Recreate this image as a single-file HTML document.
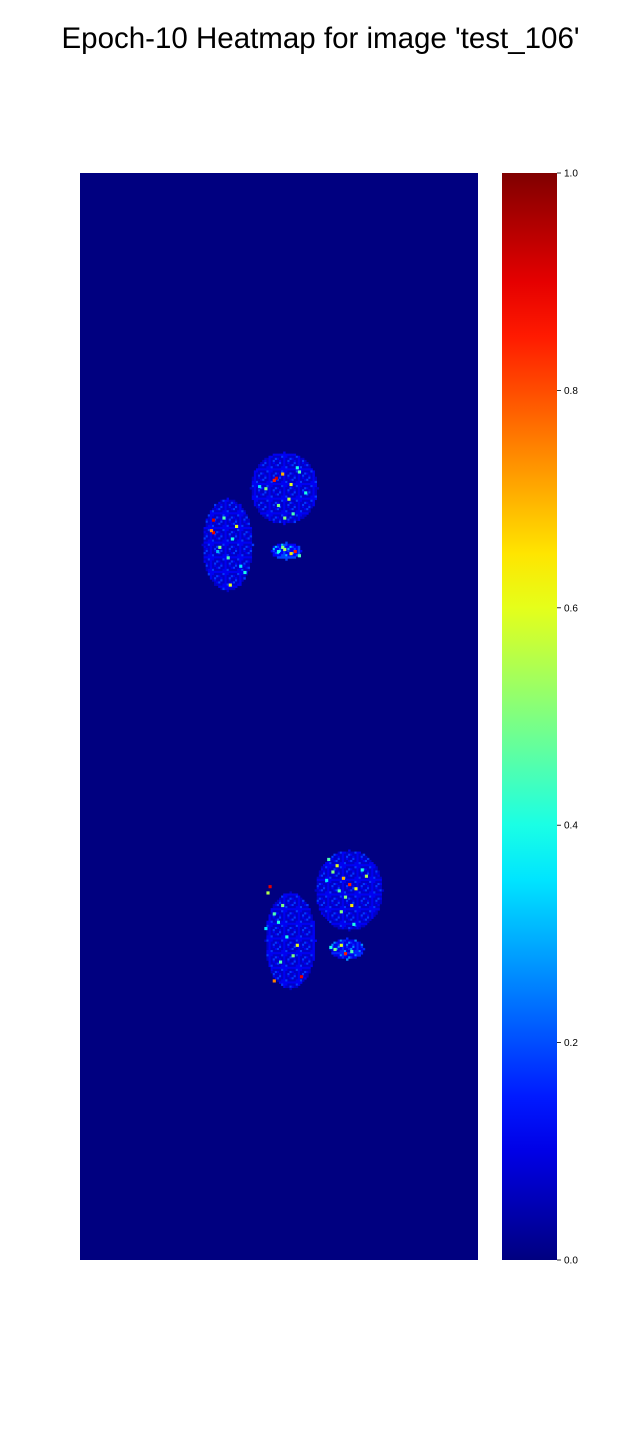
<!DOCTYPE html>
<html><head><meta charset="utf-8">
<style>
body{margin:0;background:#fff;width:641px;height:1440px;overflow:hidden;font-family:"Liberation Sans",sans-serif}
#title{position:absolute;top:22px;left:0;width:641px;text-align:center;font-size:29.5px;color:#000}
svg{position:absolute;left:0;top:0}
</style></head><body>
<div id="title">Epoch-10 Heatmap for image 'test_106'</div>
<svg id="chart" width="641" height="1440"></svg>
<script>
const NCOLS=190, NROWS=519;
// blob regions: [centerCol, centerRow, radiusCol, radiusRow, baseValue]
const blobCenterCols=[97,70,98,128,100,127];
const blobCenterRows=[150,177,180,342,366,370];
const blobRadiusCols=[16,12,7,16,12,8];
const blobRadiusRows=[17,22,4,19,23,5];
const blobBaseValues=[0.07,0.07,0.12,0.07,0.07,0.1];
// hot cells
const hotCols=[93,92,96,100,88,104,99,107,94,101,85,97,103,63,63,62,68,74,66,72,70,76,65,71,78,94,97,100,102,104,96,
 118,122,125,120,128,131,126,134,129,123,117,136,124,130,90,89,92,96,94,98,101,88,95,103,121,124,126,129,119,92,105];
const hotRows=[145,146,143,148,150,142,155,152,158,162,149,164,140,165,171,170,164,168,178,174,183,187,180,196,190,180,179,181,180,182,178,
 327,330,336,333,339,341,345,332,349,342,337,335,352,358,340,343,353,349,357,364,373,360,376,368,370,368,372,371,369,385,383];
const hotValues=[0.92,0.85,0.7,0.6,0.5,0.45,0.55,0.4,0.5,0.45,0.35,0.5,0.4,0.92,0.9,0.75,0.45,0.6,0.5,0.4,0.45,0.35,0.3,0.6,0.4,0.4,0.55,0.65,0.85,0.45,0.5,
 0.45,0.6,0.7,0.5,0.85,0.6,0.5,0.4,0.65,0.45,0.35,0.55,0.5,0.4,0.9,0.55,0.45,0.5,0.4,0.4,0.5,0.35,0.45,0.6,0.5,0.6,0.85,0.45,0.4,0.75,0.9];
const cbTicks=[0,0.2,0.4,0.6,0.8,1.0];
const cbTickLabels=["0.0","0.2","0.4","0.6","0.8","1.0"];

const X0=80,X1=478,Y0=173,Y1=1260;
const cw=(X1-X0)/NCOLS, ch=(Y1-Y0)/NROWS;
const xOf=c=>X0+c*cw, yOf=r=>Y0+r*ch;
function jet(v){
  const f=t=>Math.max(0,Math.min(1,t));
  const r=f(1.5-Math.abs(4*v-3)), g=f(1.5-Math.abs(4*v-2)), b=f(1.5-Math.abs(4*v-1));
  return `rgb(${Math.round(r*255)},${Math.round(g*255)},${Math.round(b*255)})`;
}
const NS="http://www.w3.org/2000/svg";
const svg=document.getElementById('chart');
function mk(tag,attrs){const e=document.createElementNS(NS,tag);for(const k in attrs)e.setAttribute(k,attrs[k]);return e;}
const bg=mk('rect',{x:X0,y:Y0,width:X1-X0,height:Y1-Y0,fill:jet(0)});


svg.appendChild(bg);
const g=mk('g',{});


svg.appendChild(g);
for(let b=0;b<blobCenterCols.length;b++){
  const cc=blobCenterCols[b],cr=blobCenterRows[b],rc=blobRadiusCols[b],rr=blobRadiusRows[b];
  for(let r=Math.floor(cr-rr);r<=cr+rr;r++)for(let c=Math.floor(cc-rc);c<=cc+rc;c++){
    const d=((c-cc)/rc)**2+((r-cr)/rr)**2;
    if(d>1)continue;
    const k=(c*13+r*29+c*r)%7;
    const v=blobBaseValues[b]*(k===0?2.6:(k<3?1.6:1));
    const cell=mk('rect',{x:xOf(c),y:yOf(r),width:cw+0.3,height:ch+0.3,fill:jet(v)});
    
    
    g.appendChild(cell);
  }
}
for(let i=0;i<hotCols.length;i++){
  const cell=mk('rect',{x:xOf(hotCols[i]),y:yOf(hotRows[i]),width:cw*1.5,height:ch*1.5,fill:jet(hotValues[i])});
  
  
  g.appendChild(cell);
}
// colorbar
const CX0=502,CX1=557;
const defs=mk('defs',{});
const grad=mk('linearGradient',{id:'jetg',x1:0,y1:1,x2:0,y2:0});
for(let i=0;i<=20;i++){grad.appendChild(mk('stop',{offset:i/20,'stop-color':jet(i/20)}));}
defs.appendChild(grad);svg.appendChild(defs);
const cb=mk('rect',{x:CX0,y:Y0,width:CX1-CX0,height:Y1-Y0,fill:'url(#jetg)'});


svg.appendChild(cb);
const cbY=v=>Y1-v*(Y1-Y0);
for(let i=0;i<cbTicks.length;i++){
  const y=cbY(cbTicks[i]);
  const t=mk('line',{x1:CX1,x2:CX1+4,y1:y,y2:y,stroke:'#000','stroke-width':0.8});
  
  
  svg.appendChild(t);
  const l=mk('text',{x:CX1+7,y:y+3.5,'font-size':10,'font-family':'Liberation Sans, sans-serif',fill:'#000'});
  l.textContent=cbTickLabels[i];
  
  
  svg.appendChild(l);
}
</script>
</body></html>
